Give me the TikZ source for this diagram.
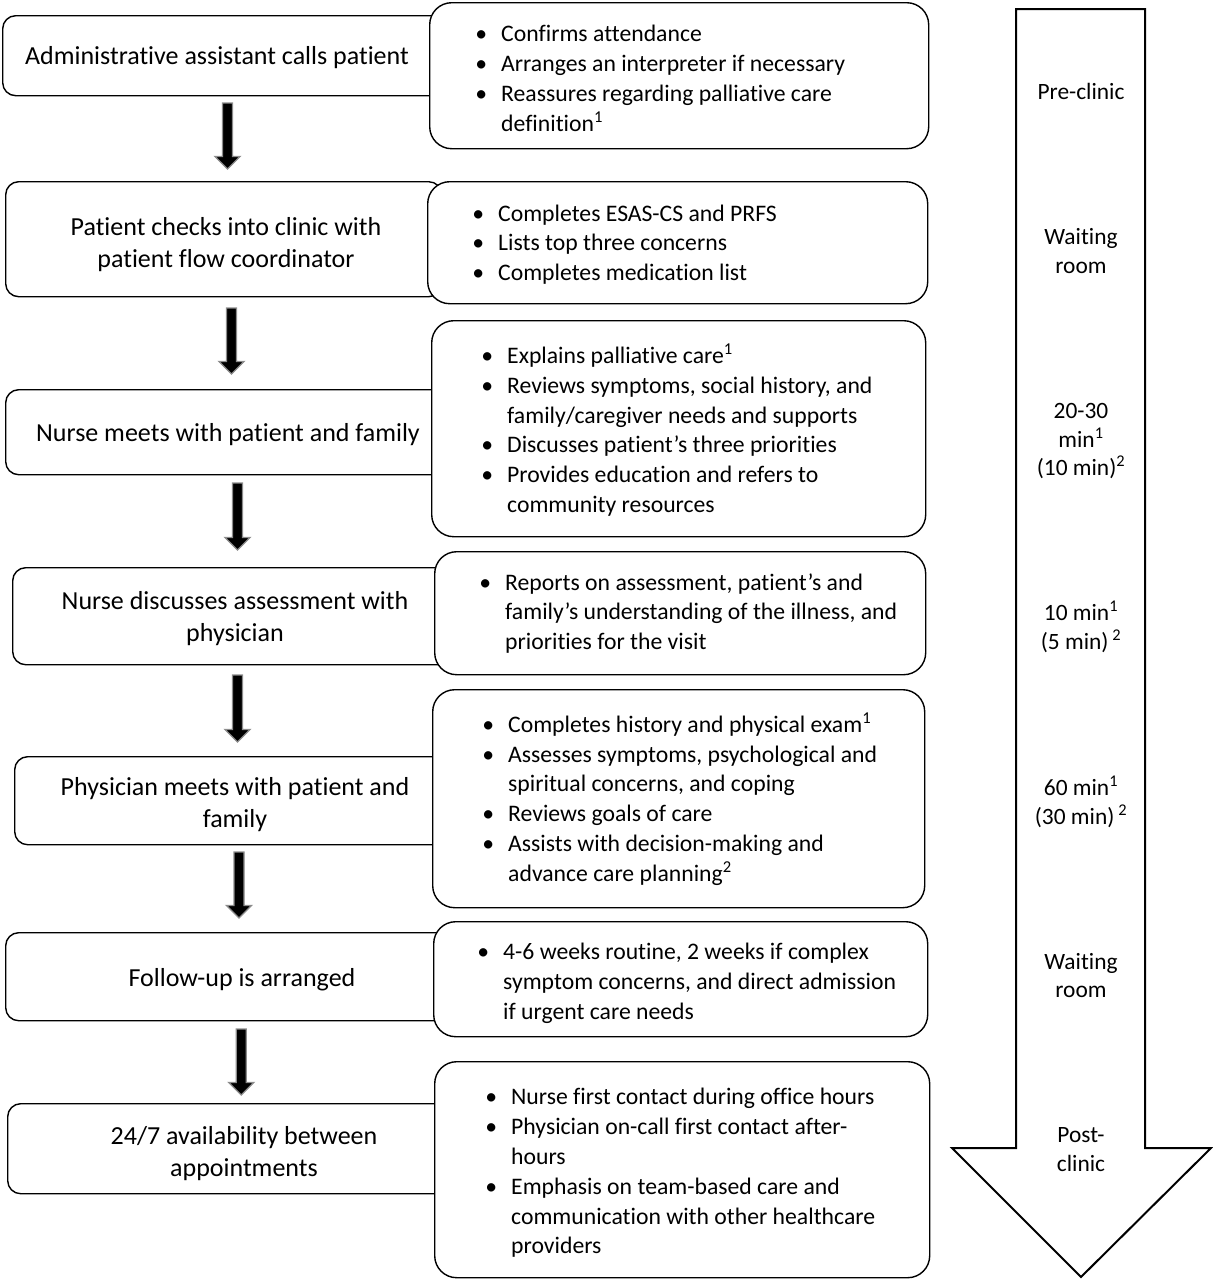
\documentclass[tikz,border=0pt]{standalone}
\usepackage{fontspec}
\setmainfont[Ligatures={NoCommon,NoContextual,NoRare}]{Carlito}
\newcommand{\bu}{\llap{\makebox[40pt][c]{•}}}
\newcommand{\sarrow}[3]{%
  \filldraw[fill=black, draw=black!45, line width=1.3pt]
    ({#1-5},#2) -- ({#1+5},#2) -- ({#1+5},{#3-12.5}) -- ({#1+12.5},{#3-12.5})
    -- (#1,#3) -- ({#1-12.5},{#3-12.5}) -- ({#1-5},{#3-12.5}) -- cycle;}
\begin{document}
\begin{tikzpicture}[x=1pt,y=-1pt,
  lbox/.style={draw, fill=white, rounded corners=13pt, line width=1.4pt, inner sep=0pt, anchor=north west},
  rbox/.style={draw, fill=white, rounded corners=22pt, line width=1.4pt, inner sep=0pt, anchor=north west},
  ltext/.style={align=center, inner sep=0pt, font=\fontsize{26}{32}\selectfont},
  rtext/.style={align=left, inner sep=0pt, anchor=west, font=\fontsize{23.7}{29.8}\selectfont},
  ctext/.style={align=center, inner sep=0pt, font=\fontsize{23.4}{28.5}\selectfont}]
\useasboundingbox (0,0) rectangle (1213,1280);

% big timeline arrow
\draw[line width=2pt, line join=miter] (1016,9) -- (1145,9) -- (1145,1148) -- (1211,1148)
  -- (1081,1277) -- (952,1148) -- (1016,1148) -- cycle;

% left boxes
\node[lbox, minimum width=445pt, minimum height=80pt]  (L1) at (2,15) {};
\node[lbox, minimum width=436pt, minimum height=115pt] (L2) at (5,181) {};
\node[lbox, minimum width=445pt, minimum height=85pt]  (L3) at (5,389) {};
\node[lbox, minimum width=440pt, minimum height=97pt]  (L4) at (12,567) {};
\node[lbox, minimum width=440pt, minimum height=88pt]  (L5) at (14,756) {};
\node[lbox, minimum width=445pt, minimum height=88pt]  (L6) at (5,932) {};
\node[lbox, minimum width=445pt, minimum height=90pt]  (L7) at (7,1103) {};

% right boxes
\node[rbox, minimum width=499pt, minimum height=146pt] (R1) at (429,2) {};
\node[rbox, minimum width=500pt, minimum height=122pt] (R2) at (427,181) {};
\node[rbox, minimum width=494pt, minimum height=216pt] (R3) at (431,320) {};
\node[rbox, minimum width=491pt, minimum height=123pt] (R4) at (434,551) {};
\node[rbox, minimum width=492pt, minimum height=218pt] (R5) at (432,689) {};
\node[rbox, minimum width=494pt, minimum height=115pt] (R6) at (433,921) {};
\node[rbox, minimum width=495pt, minimum height=216pt] (R7) at (434,1061) {};

% left texts
\node[ltext] (T1) at (217,57.5) {Administrative assistant calls patient};
\node[ltext] (T2) at (226,245) {Patient checks into clinic with\\patient flow coordinator};
\node[ltext] (T3) at (228,435) {Nurse meets with patient and family};
\node[ltext] (T4) at (235,619) {Nurse discusses assessment with\\physician};
\node[ltext] (T5) at (235,805) {Physician meets with patient and\\family};
\node[ltext] (T6) at (242,980) {Follow-up is arranged};
\node[ltext] (T7) at (244,1154) {24/7 availability between\\appointments};

% right texts
\node[rtext] (S1) at (501,78.5) {\bu Confirms attendance\\\bu Arranges an interpreter if necessary\\\bu Reassures regarding palliative care\\definition\textsuperscript{1}};
\node[rtext] (S2) at (498,244.5) {\bu Completes ESAS-CS and PRFS\\\bu Lists top three concerns\\\bu Completes medication list};
\node[rtext] (S3) at (507,430) {\bu Explains palliative care\textsuperscript{1}\\\bu Reviews symptoms, social history, and\\family/caregiver needs and supports\\\bu Discusses patient’s three priorities\\\bu Provides education and refers to\\community resources};
\node[rtext] (S4) at (505,613.5) {\bu Reports on assessment, patient’s and\\family’s understanding of the illness, and\\priorities for the visit};
\node[rtext] (S5) at (508,799) {\bu Completes history and physical exam\textsuperscript{1}\\\bu Assesses symptoms, psychological and\\spiritual concerns, and coping\\\bu Reviews goals of care\\\bu Assists with decision-making and\\advance care planning\textsuperscript{2}};
\node[rtext] (S6) at (503,983) {\bu 4-6 weeks routine, 2 weeks if complex\\symptom concerns, and direct admission\\if urgent care needs};
\node[rtext] (S7) at (511,1173) {\bu Nurse first contact during office hours\\\bu Physician on-call first contact after-\\hours\\\bu Emphasis on team-based care and\\communication with other healthcare\\providers};

% timeline texts
\node[ctext] (C1) at (1081,91) {Pre-clinic};
\node[ctext] (C2) at (1081,251) {Waiting\\room};
\node[ctext] (C3) at (1081,441.5) {20-30\\min\textsuperscript{1}\\(10 min)\textsuperscript{2}};
\node[ctext] (C4) at (1081,627) {10 min\textsuperscript{1}\\(5 min)\,\textsuperscript{2}};
\node[ctext] (C5) at (1081,802) {60 min\textsuperscript{1}\\(30 min)\,\textsuperscript{2}};
\node[ctext] (C6) at (1081,975.5) {Waiting\\room};
\node[ctext] (C7) at (1081,1149.5) {Post-\\clinic};

% step arrows
\sarrow{227.5}{103}{169}
\sarrow{231.5}{308}{374}
\sarrow{237.5}{483}{550}
\sarrow{237.5}{675}{742}
\sarrow{239}{852}{918}
\sarrow{241.3}{1029}{1095}
\end{tikzpicture}
\end{document}
